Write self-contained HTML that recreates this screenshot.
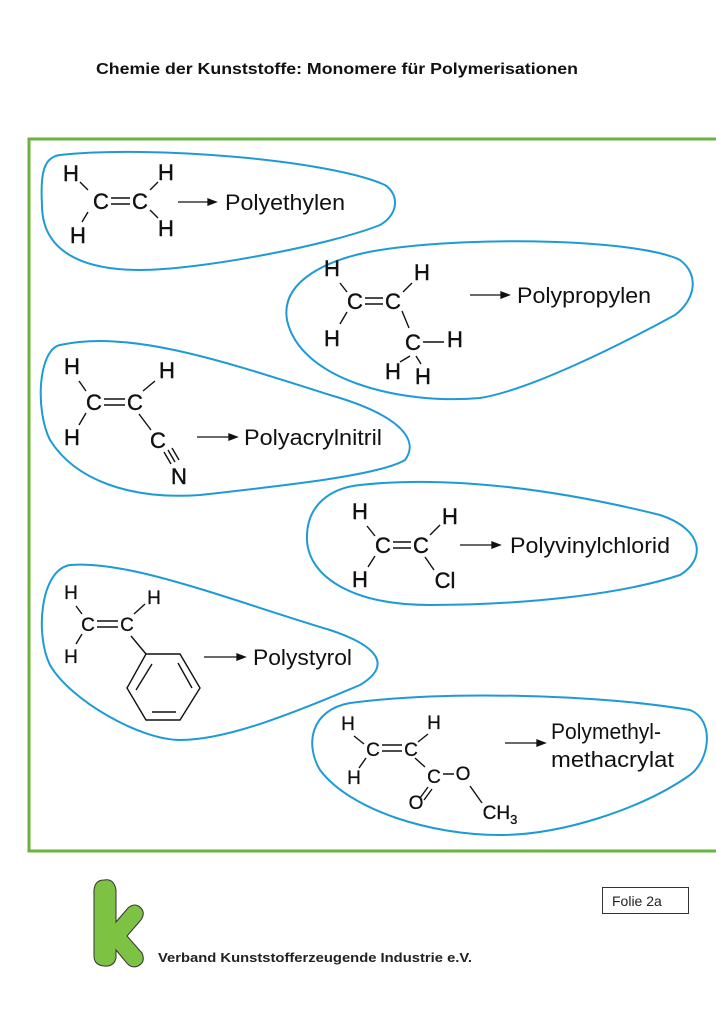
<!DOCTYPE html>
<html><head><meta charset="utf-8"><style>
html,body{margin:0;padding:0;background:#fff;}
body{width:716px;height:1013px;overflow:hidden;position:relative;}
svg{position:absolute;left:0;top:0;}
</style></head><body>
<svg width="716" height="1013" viewBox="0 0 716 1013" xmlns="http://www.w3.org/2000/svg" font-family="Liberation Sans, sans-serif">
<text x="96" y="74" font-size="16" font-weight="bold" fill="#111" textLength="482" lengthAdjust="spacingAndGlyphs">Chemie der Kunststoffe: Monomere für Polymerisationen</text>
<path d="M716,139 H29 V851 H716" fill="none" stroke="#6bb23f" stroke-width="3"/>
<g fill="none" stroke="#1e9bd7" stroke-width="2">
<path d="M60,155 C150,145 330,160 385,185 C400,195 398,215 380,225 C330,245 200,270 140,270 C80,270 42,250 42,205 C40,170 45,157 60,155 Z"/>
<path d="M380,250 C480,235 640,240 680,260 C700,275 695,300 675,315 C620,345 530,390 480,398 C400,405 300,380 287,320 C280,280 330,258 380,250 Z"/>
<path d="M60,345 C130,330 220,360 330,395 C400,415 420,440 405,460 C380,475 290,485 200,495 C130,500 75,480 50,440 C35,410 38,350 60,345 Z"/>
<path d="M360,485 C450,475 560,490 660,515 C705,530 705,560 680,575 C620,595 520,605 430,605 C350,605 305,575 307,535 C308,505 330,488 360,485 Z"/>
<path d="M70,565 C130,560 230,600 330,630 C390,650 385,670 360,685 C300,710 230,740 180,740 C140,740 70,700 50,665 C35,635 40,570 70,565 Z"/>
<path d="M350,703 C450,690 600,695 690,710 C715,720 710,760 690,775 C640,810 560,835 500,835 C430,835 350,810 320,770 C305,745 310,710 350,703 Z"/>
</g>
<g font-size="22" fill="#111" text-anchor="middle" stroke="#111" stroke-width="0.4">
<text x="71" y="181">H</text><text x="166" y="180">H</text>
<text x="101" y="209">C</text><text x="140" y="209">C</text>
<text x="78" y="243">H</text><text x="166" y="236">H</text>
<text x="332" y="276">H</text><text x="422" y="280">H</text>
<text x="355" y="309">C</text><text x="393" y="309">C</text>
<text x="332" y="346">H</text><text x="413" y="350">C</text><text x="455" y="347">H</text>
<text x="393" y="379">H</text><text x="423" y="384">H</text>
<text x="72" y="374">H</text><text x="167" y="378">H</text>
<text x="94" y="410">C</text><text x="135" y="410">C</text>
<text x="72" y="445">H</text><text x="158" y="448">C</text><text x="179" y="484">N</text>
<text x="360" y="519">H</text><text x="450" y="524">H</text>
<text x="383" y="553">C</text><text x="421" y="553">C</text>
<text x="360" y="587">H</text><text x="445" y="588">Cl</text>
</g>
<g font-size="19" fill="#111" text-anchor="middle" stroke="#111" stroke-width="0.3">
<text x="71" y="599">H</text><text x="154" y="604">H</text>
<text x="88" y="631">C</text><text x="127" y="631">C</text>
<text x="71" y="663">H</text>
<text x="348" y="730">H</text><text x="434" y="729">H</text>
<text x="373" y="756">C</text><text x="411" y="756">C</text>
<text x="354" y="784">H</text><text x="434" y="783">C</text><text x="463" y="780">O</text>
<text x="416" y="809">O</text><text x="500" y="819">CH<tspan font-size="13" dy="5">3</tspan></text>
</g>
<g stroke="#111" stroke-width="1.4" fill="none">
<path d="M80,182 L88,190 M111,198 H130 M111,204 H130 M150,190 L158,182 M88,212 L82,222 M150,210 L158,218"/>
<path d="M340,283 L347,292 M365,298 H383 M365,304 H383 M403,292 L412,283 M347,312 L340,324 M402,311 L409,328 M423,342 H444 M410,356 L400,362 M416,356 L421,364"/>
<path d="M79,381 L86,391 M104,399 H125 M104,405 H125 M143,391 L155,381 M86,413 L79,425 M139,414 L151,430 M164,452 L171,464 M168,450 L175,462 M172,448 L179,460"/>
<path d="M367,526 L375,536 M393,542 H411 M393,548 H411 M430,535 L440,525 M375,556 L368,567 M425,557 L434,570"/>
<path d="M76,606 L82,614 M97,621 H118 M97,627 H118 M134,614 L145,604 M82,634 L76,644 M131,636 L146,654"/>
<path d="M146,654 L180,654 L200,688 L180,720 L146,720 L127,688 Z"/>
<path d="M152,664 L136,690 M178,663 L192,688 M152,712 L176,712"/>
<path d="M354,736 L364,744 M382,745 H402 M382,751 H402 M418,742 L428,734 M366,758 L359,768 M415,758 L425,767 M443,774 H454 M428,787 L420,798 M432,789 L424,800 M470,786 L482,803"/>
</g>
<g stroke="#111" stroke-width="1.3" fill="#111">
<path d="M178,202 H210"/><path d="M208,199 L216,202 L208,205 Z"/>
<path d="M470,295 H503"/><path d="M501,292 L509,295 L501,298 Z"/>
<path d="M197,437 H231"/><path d="M229,434 L237,437 L229,440 Z"/>
<path d="M460,545 H494"/><path d="M492,542 L500,545 L492,548 Z"/>
<path d="M204,657 H239"/><path d="M237,654 L245,657 L237,660 Z"/>
<path d="M505,743 H539"/><path d="M537,740 L545,743 L537,746 Z"/>
</g>
<g font-size="22" fill="#111" lengthAdjust="spacingAndGlyphs">
<text x="225" y="210" textLength="120" lengthAdjust="spacingAndGlyphs">Polyethylen</text>
<text x="517" y="303" textLength="134" lengthAdjust="spacingAndGlyphs">Polypropylen</text>
<text x="244" y="445" textLength="138" lengthAdjust="spacingAndGlyphs">Polyacrylnitril</text>
<text x="510" y="553" textLength="160" lengthAdjust="spacingAndGlyphs">Polyvinylchlorid</text>
<text x="253" y="665" textLength="99" lengthAdjust="spacingAndGlyphs">Polystyrol</text>
<text x="551" y="739" textLength="110" lengthAdjust="spacingAndGlyphs">Polymethyl-</text>
<text x="551" y="767" textLength="123" lengthAdjust="spacingAndGlyphs">methacrylat</text>
</g>
<path d="M104,880 Q114,878 116,890 L116,922 L128,908 Q135,902 141,908 Q146,914 140,921 L127,936 L142,953 Q146,962 138,966 Q131,969 126,962 L116,950 L116,958 Q114,967 104,966 Q94,965 94,956 L94,890 Q95,880 104,880 Z" fill="#7dc242" stroke="#333" stroke-width="1"/>
<text x="158" y="962" font-size="13" font-weight="bold" fill="#222" textLength="314" lengthAdjust="spacingAndGlyphs">Verband Kunststofferzeugende Industrie e.V.</text>
<rect x="602.5" y="887.5" width="86" height="26" fill="#fff" stroke="#333" stroke-width="1"/>
<text x="612" y="906" font-size="14" fill="#222">Folie 2a</text>
</svg>
</body></html>
